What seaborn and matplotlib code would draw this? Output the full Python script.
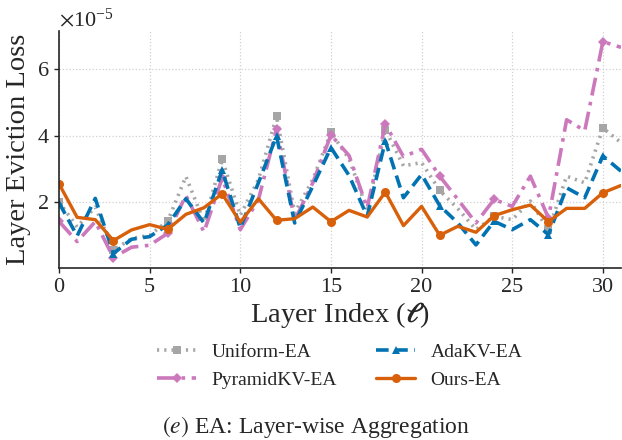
import numpy as np
import pandas as pd
import matplotlib
matplotlib.use("Agg")
import matplotlib.pyplot as plt
import seaborn as sns

layers = list(range(32))
uniform_ea = [2.01, 1.25, 1.85, 0.55, 0.90, 1.00, 1.43, 2.77, 1.40, 3.29, 1.60, 2.68, 4.58, 1.67, 2.68, 4.10,
              3.30, 1.77, 4.18, 3.09, 3.19, 2.35, 1.80, 1.17, 1.57, 1.47, 2.03, 1.15, 2.78, 2.58, 4.23, 3.79]
pyramid_ea = [1.42, 0.81, 1.41, 0.33, 0.64, 0.70, 1.06, 2.20, 1.10, 2.73, 1.17, 2.07, 4.20, 1.45, 2.58, 4.02,
              3.40, 1.82, 4.35, 3.37, 3.59, 2.78, 2.08, 1.37, 2.08, 1.87, 2.78, 1.52, 4.48, 4.15, 6.83, 6.66]
adakv_ea = [1.98, 0.98, 2.11, 0.45, 0.88, 0.96, 1.31, 2.10, 1.37, 2.96, 1.22, 2.58, 3.99, 1.37, 2.48, 3.64,
            2.80, 1.57, 3.84, 2.13, 2.83, 1.89, 1.37, 0.71, 1.42, 1.17, 1.47, 1.02, 2.43, 2.13, 3.39, 2.93]
ours_ea = [2.55, 1.54, 1.47, 0.84, 1.16, 1.32, 1.18, 1.63, 1.83, 2.25, 1.39, 2.10, 1.45, 1.50, 1.85, 1.41,
           1.75, 1.55, 2.30, 1.29, 1.87, 1.00, 1.27, 1.09, 1.59, 1.77, 1.91, 1.41, 1.81, 1.81, 2.28, 2.50]
scale = 1e-5

series_names = ["Uniform-EA", "PyramidKV-EA", "AdaKV-EA", "Ours-EA"]
series_values = [uniform_ea, pyramid_ea, adakv_ea, ours_ea]

sns.set_style("ticks")
plt.rcParams['font.family'] = ['Liberation Serif', 'DejaVu Serif']
plt.rcParams['mathtext.fontset'] = 'stix'

fig = plt.figure(figsize=(6.22, 4.40), dpi=100)
ax = fig.add_axes([59/622, 1 - 268.3/440, (621 - 59)/622, (268.3 - 30.9)/440])

styles = {
    "Uniform-EA": dict(color="#a6a6a6", linestyle=(0, (0.6, 1.4)), marker="s", markersize=5.5, lw=2.6),
    "PyramidKV-EA": dict(color="#cc78bc", linestyle=(0, (5, 1.8, 1, 1.8)), marker="D", markersize=5, lw=2.6),
    "AdaKV-EA": dict(color="#0173b2", linestyle=(0, (3.5, 1.8)), marker="^", markersize=6, lw=2.6),
    "Ours-EA": dict(color="#d9600a", linestyle="-", marker="o", markersize=6.5, lw=2.4),
}

for name, vals in zip(series_names, series_values):
    df = pd.DataFrame({"layer": layers, "loss": np.array(vals) * scale})
    st = styles[name]
    sns.lineplot(data=df, x="layer", y="loss", ax=ax, label=name,
                 color=st["color"], linestyle=st["linestyle"], marker=st["marker"],
                 markersize=st["markersize"], linewidth=st["lw"], markevery=3,
                 markeredgewidth=0, legend=False)

ax.set_xlim(0, 31)
ax.set_xticks([0, 5, 10, 15, 20, 25, 30])
ax.set_yticks([2e-5, 4e-5, 6e-5])
ax.ticklabel_format(axis='y', style='sci', scilimits=(0, 0), useMathText=True)
ax.yaxis.get_offset_text().set_fontsize(16)
ax.tick_params(labelsize=16, length=3.5, width=1)
ax.grid(True, linestyle=':', color='#d0d0d0', linewidth=0.9)
sns.despine(ax=ax)
for sp in ax.spines.values():
    sp.set_linewidth(1.2)
ax.set_xlabel(r"Layer Index ($\boldsymbol{\ell}$)", fontsize=20.5, labelpad=2)
ax.set_ylabel("Layer Eviction Loss", fontsize=20.5, labelpad=4)

handles, labels = ax.get_legend_handles_labels()
fig.legend(handles, labels, loc='center', bbox_to_anchor=(340/622, 0.168), ncol=2,
           frameon=False, fontsize=14, handlelength=2.0, columnspacing=2.0)

fig.text(316/622, 0.03, r"$\mathit{(e)}$ EA: Layer-wise Aggregation", ha='center', va='center', fontsize=17)

fig.savefig("out.png", dpi=100)
